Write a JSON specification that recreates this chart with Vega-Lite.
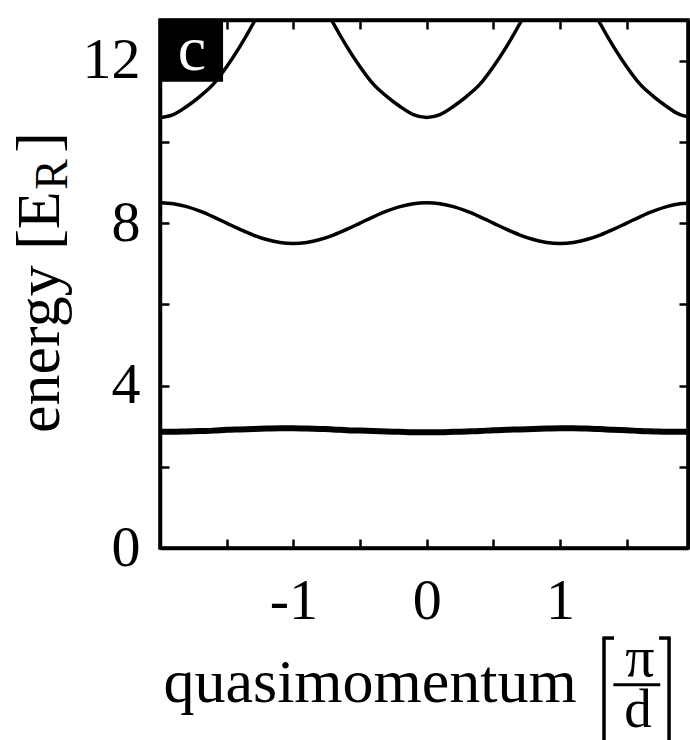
{
  "$schema": "https://vega.github.io/schema/vega-lite/v6.json",
  "width": 528,
  "height": 528,
  "autosize": "none",
  "padding": {"left": 160, "top": 20, "right": 2, "bottom": 192},
  "background": "white",
  "config": {
    "font": "Liberation Serif",
    "view": {"stroke": "black", "strokeWidth": 3.5},
    "axis": {
      "grid": false,
      "domainColor": "black",
      "domainWidth": 3.5,
      "tickColor": "black",
      "tickWidth": 2.5,
      "tickSize": -9,
      "labelFont": "Liberation Serif",
      "labelFontSize": 58,
      "labelColor": "black",
      "labelOverlap": false,
      "labelFlush": false,
      "titleFont": "Liberation Serif",
      "titleFontSize": 62,
      "titleFontWeight": "normal",
      "titleColor": "black"
    }
  },
  "datasets": {
    "bands": [
      {"band": "1", "q": -2.0, "E": 2.86}, {"band": "1", "q": -1.9, "E": 2.86}, {"band": "1", "q": -1.8, "E": 2.87}, {"band": "1", "q": -1.7, "E": 2.88}, {"band": "1", "q": -1.6, "E": 2.89}, {"band": "1", "q": -1.5, "E": 2.91}, {"band": "1", "q": -1.4, "E": 2.92}, {"band": "1", "q": -1.3, "E": 2.93}, {"band": "1", "q": -1.2, "E": 2.94}, {"band": "1", "q": -1.1, "E": 2.95}, {"band": "1", "q": -1.0, "E": 2.95}, {"band": "1", "q": -0.9, "E": 2.94}, {"band": "1", "q": -0.8, "E": 2.93}, {"band": "1", "q": -0.7, "E": 2.92}, {"band": "1", "q": -0.6, "E": 2.9}, {"band": "1", "q": -0.5, "E": 2.89}, {"band": "1", "q": -0.4, "E": 2.88}, {"band": "1", "q": -0.3, "E": 2.87}, {"band": "1", "q": -0.2, "E": 2.86}, {"band": "1", "q": -0.1, "E": 2.85}, {"band": "1", "q": 0.0, "E": 2.85}, {"band": "1", "q": 0.1, "E": 2.85}, {"band": "1", "q": 0.2, "E": 2.86}, {"band": "1", "q": 0.3, "E": 2.87}, {"band": "1", "q": 0.4, "E": 2.88}, {"band": "1", "q": 0.5, "E": 2.9}, {"band": "1", "q": 0.6, "E": 2.91}, {"band": "1", "q": 0.7, "E": 2.92}, {"band": "1", "q": 0.8, "E": 2.93}, {"band": "1", "q": 0.9, "E": 2.94}, {"band": "1", "q": 1.0, "E": 2.95}, {"band": "1", "q": 1.1, "E": 2.95}, {"band": "1", "q": 1.2, "E": 2.94}, {"band": "1", "q": 1.3, "E": 2.93}, {"band": "1", "q": 1.4, "E": 2.91}, {"band": "1", "q": 1.5, "E": 2.9}, {"band": "1", "q": 1.6, "E": 2.88}, {"band": "1", "q": 1.7, "E": 2.87}, {"band": "1", "q": 1.8, "E": 2.86}, {"band": "1", "q": 1.9, "E": 2.86}, {"band": "1", "q": 1.96, "E": 2.86},
      {"band": "2", "q": -2.0, "E": 8.5}, {"band": "2", "q": -1.9, "E": 8.476}, {"band": "2", "q": -1.8, "E": 8.405}, {"band": "2", "q": -1.7, "E": 8.294}, {"band": "2", "q": -1.6, "E": 8.155}, {"band": "2", "q": -1.5, "E": 8.0}, {"band": "2", "q": -1.4, "E": 7.845}, {"band": "2", "q": -1.3, "E": 7.706}, {"band": "2", "q": -1.2, "E": 7.595}, {"band": "2", "q": -1.1, "E": 7.524}, {"band": "2", "q": -1.0, "E": 7.5}, {"band": "2", "q": -0.9, "E": 7.524}, {"band": "2", "q": -0.8, "E": 7.595}, {"band": "2", "q": -0.7, "E": 7.706}, {"band": "2", "q": -0.6, "E": 7.845}, {"band": "2", "q": -0.5, "E": 8.0}, {"band": "2", "q": -0.4, "E": 8.155}, {"band": "2", "q": -0.3, "E": 8.294}, {"band": "2", "q": -0.2, "E": 8.405}, {"band": "2", "q": -0.1, "E": 8.476}, {"band": "2", "q": 0.0, "E": 8.5}, {"band": "2", "q": 0.1, "E": 8.476}, {"band": "2", "q": 0.2, "E": 8.405}, {"band": "2", "q": 0.3, "E": 8.294}, {"band": "2", "q": 0.4, "E": 8.155}, {"band": "2", "q": 0.5, "E": 8.0}, {"band": "2", "q": 0.6, "E": 7.845}, {"band": "2", "q": 0.7, "E": 7.706}, {"band": "2", "q": 0.8, "E": 7.595}, {"band": "2", "q": 0.9, "E": 7.524}, {"band": "2", "q": 1.0, "E": 7.5}, {"band": "2", "q": 1.1, "E": 7.524}, {"band": "2", "q": 1.2, "E": 7.595}, {"band": "2", "q": 1.3, "E": 7.706}, {"band": "2", "q": 1.4, "E": 7.845}, {"band": "2", "q": 1.5, "E": 8.0}, {"band": "2", "q": 1.6, "E": 8.155}, {"band": "2", "q": 1.7, "E": 8.294}, {"band": "2", "q": 1.8, "E": 8.405}, {"band": "2", "q": 1.9, "E": 8.476}, {"band": "2", "q": 1.96, "E": 8.49},
      {"band": "3a", "q": -2.0, "E": 10.6}, {"band": "3a", "q": -1.9, "E": 10.67}, {"band": "3a", "q": -1.8, "E": 10.87}, {"band": "3a", "q": -1.7, "E": 11.12}, {"band": "3a", "q": -1.6, "E": 11.42}, {"band": "3a", "q": -1.5, "E": 11.85}, {"band": "3a", "q": -1.4, "E": 12.35}, {"band": "3a", "q": -1.3, "E": 12.92}, {"band": "3a", "q": -1.2, "E": 13.55},
      {"band": "3b", "q": -0.8, "E": 13.55}, {"band": "3b", "q": -0.7, "E": 12.92}, {"band": "3b", "q": -0.6, "E": 12.35}, {"band": "3b", "q": -0.5, "E": 11.85}, {"band": "3b", "q": -0.4, "E": 11.42}, {"band": "3b", "q": -0.3, "E": 11.12}, {"band": "3b", "q": -0.2, "E": 10.87}, {"band": "3b", "q": -0.1, "E": 10.67}, {"band": "3b", "q": 0.0, "E": 10.6}, {"band": "3b", "q": 0.1, "E": 10.67}, {"band": "3b", "q": 0.2, "E": 10.87}, {"band": "3b", "q": 0.3, "E": 11.12}, {"band": "3b", "q": 0.4, "E": 11.42}, {"band": "3b", "q": 0.5, "E": 11.85}, {"band": "3b", "q": 0.6, "E": 12.35}, {"band": "3b", "q": 0.7, "E": 12.92}, {"band": "3b", "q": 0.8, "E": 13.55},
      {"band": "3c", "q": 1.2, "E": 13.55}, {"band": "3c", "q": 1.3, "E": 12.92}, {"band": "3c", "q": 1.4, "E": 12.35}, {"band": "3c", "q": 1.5, "E": 11.85}, {"band": "3c", "q": 1.6, "E": 11.42}, {"band": "3c", "q": 1.7, "E": 11.12}, {"band": "3c", "q": 1.8, "E": 10.87}, {"band": "3c", "q": 1.9, "E": 10.67}, {"band": "3c", "q": 1.96, "E": 10.62}
    ]
  },
  "data": {"name": "bands"},
  "resolve": {"axis": {"x": "independent", "y": "independent"}},
  "layer": [
    {
      "transform": [{"filter": "datum.band !== '1'"}],
      "mark": {"type": "line", "color": "black", "strokeWidth": 3.5, "interpolate": "monotone", "clip": true},
      "encoding": {
        "x": {
          "field": "q", "type": "quantitative",
          "scale": {"domain": [-2, 1.96], "nice": false, "zero": false},
          "axis": {
            "orient": "bottom",
            "values": [-1.5, -1, -0.5, 0, 0.5, 1, 1.5],
            "labelExpr": "datum.value % 1 === 0 ? '' + datum.value : ''",
            "labelPadding": 33,
            "title": "quasimomentum",
            "titleAnchor": null,
            "titleX": 3,
            "titleY": 153,
            "titleAlign": "left",
            "titleBaseline": "alphabetic"
          }
        },
        "y": {
          "field": "E", "type": "quantitative",
          "scale": {"domain": [0, 13], "nice": false, "zero": false},
          "axis": {
            "orient": "left",
            "values": [0, 2, 4, 6, 8, 10, 12],
            "labelExpr": "datum.value % 4 === 0 ? '' + datum.value : ''",
            "labelPadding": 29,
            "title": null
          }
        },
        "detail": {"field": "band"}
      }
    },
    {
      "transform": [{"filter": "datum.band === '1'"}],
      "mark": {"type": "line", "color": "black", "strokeWidth": 6, "interpolate": "monotone", "clip": true},
      "encoding": {
        "x": {
          "field": "q", "type": "quantitative",
          "axis": {"orient": "top", "values": [-1.5, -1, -0.5, 0, 0.5, 1, 1.5], "labels": false, "title": null}
        },
        "y": {
          "field": "E", "type": "quantitative",
          "axis": {"orient": "right", "values": [2, 4, 6, 8, 10, 12], "labels": false, "title": null}
        }
      }
    },
    {
      "data": {"values": [{}]},
      "mark": {"type": "rect", "color": "black"},
      "encoding": {
        "x": {"datum": -2, "type": "quantitative", "axis": null},
        "x2": {"datum": -1.527},
        "y": {"datum": 13, "type": "quantitative", "axis": null},
        "y2": {"datum": 11.48}
      }
    },
    {
      "data": {"values": [{}]},
      "mark": {"type": "text", "text": "c", "color": "white", "font": "Liberation Serif", "fontSize": 64, "align": "center", "baseline": "alphabetic"},
      "encoding": {
        "x": {"datum": -1.76, "type": "quantitative", "axis": null},
        "y": {"datum": 11.77, "type": "quantitative", "axis": null}
      }
    },
    {
      "data": {"values": [{}]},
      "mark": {"type": "text", "text": "energy [E", "color": "black", "font": "Liberation Serif", "fontSize": 62, "angle": 270, "align": "left", "baseline": "alphabetic"},
      "encoding": {
        "x": {"datum": -2.758, "type": "quantitative", "axis": null},
        "y": {"datum": 2.833, "type": "quantitative", "axis": null}
      }
    },
    {
      "data": {"values": [{}]},
      "mark": {"type": "text", "text": "R", "color": "black", "font": "Liberation Serif", "fontSize": 46, "angle": 270, "align": "left", "baseline": "alphabetic"},
      "encoding": {
        "x": {"datum": -2.698, "type": "quantitative", "axis": null},
        "y": {"datum": 8.818, "type": "quantitative", "axis": null}
      }
    },
    {
      "data": {"values": [{}]},
      "mark": {"type": "text", "text": "]", "color": "black", "font": "Liberation Serif", "fontSize": 62, "angle": 270, "align": "left", "baseline": "alphabetic"},
      "encoding": {
        "x": {"datum": -2.758, "type": "quantitative", "axis": null},
        "y": {"datum": 9.73, "type": "quantitative", "axis": null}
      }
    },
    {
      "data": {"values": [{}]},
      "mark": {"type": "text", "text": "π", "color": "black", "font": "Liberation Serif", "fontSize": 58, "align": "center", "baseline": "alphabetic"},
      "encoding": {
        "x": {"datum": 1.6, "type": "quantitative", "axis": null},
        "y": {"datum": -3.15, "type": "quantitative", "axis": null}
      }
    },
    {
      "data": {"values": [{}]},
      "mark": {"type": "text", "text": "d", "color": "black", "font": "Liberation Serif", "fontSize": 55, "align": "center", "baseline": "alphabetic"},
      "encoding": {
        "x": {"datum": 1.585, "type": "quantitative", "axis": null},
        "y": {"datum": -4.4, "type": "quantitative", "axis": null}
      }
    },
    {
      "data": {"values": [{}]},
      "mark": {"type": "rule", "color": "black", "strokeWidth": 3},
      "encoding": {
        "x": {"datum": 1.4, "type": "quantitative", "axis": null},
        "x2": {"datum": 1.752},
        "y": {"datum": -3.37, "type": "quantitative", "axis": null}
      }
    },
    {
      "data": {"values": [{}]},
      "mark": {"type": "rule", "color": "black", "strokeWidth": 3.5},
      "encoding": {
        "x": {"datum": 1.33, "type": "quantitative", "axis": null},
        "y": {"datum": -2.217, "type": "quantitative", "axis": null},
        "y2": {"datum": -4.9}
      }
    },
    {
      "data": {"values": [{}]},
      "mark": {"type": "rule", "color": "black", "strokeWidth": 3.5},
      "encoding": {
        "x": {"datum": 1.318, "type": "quantitative", "axis": null},
        "x2": {"datum": 1.405},
        "y": {"datum": -2.217, "type": "quantitative", "axis": null}
      }
    },
    {
      "data": {"values": [{}]},
      "mark": {"type": "rule", "color": "black", "strokeWidth": 3.5},
      "encoding": {
        "x": {"datum": 1.818, "type": "quantitative", "axis": null},
        "y": {"datum": -2.217, "type": "quantitative", "axis": null},
        "y2": {"datum": -4.9}
      }
    },
    {
      "data": {"values": [{}]},
      "mark": {"type": "rule", "color": "black", "strokeWidth": 3.5},
      "encoding": {
        "x": {"datum": 1.743, "type": "quantitative", "axis": null},
        "x2": {"datum": 1.83},
        "y": {"datum": -2.217, "type": "quantitative", "axis": null}
      }
    }
  ]
}
